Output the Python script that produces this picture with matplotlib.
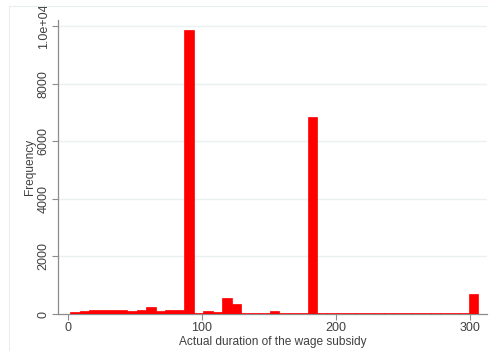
import numpy as np
import matplotlib
matplotlib.use("Agg")
import matplotlib.pyplot as plt
from matplotlib.lines import Line2D

plt.rcParams['font.family'] = ['Liberation Sans', 'DejaVu Sans']

# Histogram of subsidy durations (days): 43 equal-width bins
duration_min = 2
duration_max = 306
counts = [55, 90, 140, 150, 155, 150, 120, 125, 250, 120,
          150, 125, 9850, 35, 90, 55, 570, 340, 45, 40,
          35, 120, 45, 40, 50, 6840, 45, 40, 35, 40,
          35, 35, 40, 30, 35, 35, 30, 30, 35, 30,
          30, 35, 690]
x_ticks = [0, 100, 200, 300]
y_ticks = [0, 2000, 4000, 6000, 8000, 10000]
y_tick_labels = ["0", "2000", "4000", "6000", "8000", "1.0e+04"]
x_label = "Actual duration of the wage subsidy"
y_label = "Frequency"

edges = np.linspace(duration_min, duration_max, len(counts) + 1)
widths = np.diff(edges)

fig = plt.figure(figsize=(4.91, 3.60), dpi=100)
fig.patch.set_facecolor("white")

# faint outer frame of the graph region
frame_col = "#e8eeee"
fig.add_artist(Line2D([9/491, 487/491], [1 - 6/360, 1 - 6/360], color=frame_col, lw=0.8))
fig.add_artist(Line2D([9/491, 9/491], [1 - 6/360, 1 - 350/360], color=frame_col, lw=0.8))

ax = fig.add_axes([58/491, 46/360, (487 - 58)/491, (314 - 20)/360])
ax.bar(edges[:-1], counts, width=widths, align="edge",
       color="#ff0000", edgecolor="#ff0000", linewidth=0.5, zorder=3)

ax.set_xlim(-7.2, 312.4)
ax.set_ylim(0, 10208)

ax.set_xticks(x_ticks)
ax.set_yticks(y_ticks)
ax.set_yticklabels(y_tick_labels, rotation=90, va="center")

for y in y_ticks[1:]:
    ax.axhline(y, color="#eaf1f2", lw=1.0, zorder=1)

axis_col = "#8c8c8c"
for side in ("top", "right"):
    ax.spines[side].set_visible(False)
for side in ("left", "bottom"):
    ax.spines[side].set_color(axis_col)
    ax.spines[side].set_linewidth(0.9)

ax.tick_params(axis="both", colors=axis_col, length=4, width=0.8,
               labelcolor="#404040", labelsize=9)
ax.tick_params(axis="y", pad=2)
ax.tick_params(axis="x", pad=1.5)

ax.set_xlabel(x_label, fontsize=8.6, color="#404040", labelpad=2)
ax.set_ylabel(y_label, fontsize=8.6, color="#404040", labelpad=1)

fig.savefig("out.png", dpi=100, facecolor="white")
